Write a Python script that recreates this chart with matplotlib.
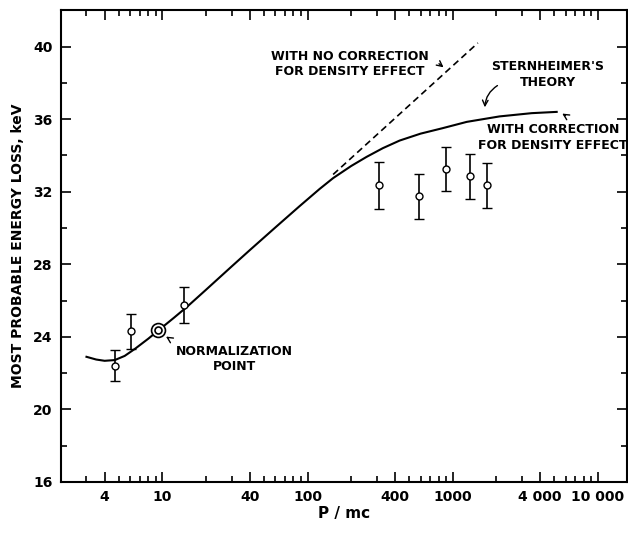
import matplotlib.pyplot as plt
from matplotlib.ticker import FixedLocator, NullFormatter

# Sternheimer theory, with density-effect correction
curve_p = [3.0, 3.5, 4.0, 4.7, 5.5, 6.5, 8.0, 9.4, 12, 15, 20, 30, 40, 60, 88,
           121, 150, 200, 255, 330, 431, 600, 850, 1250, 2100, 3500, 5200]
curve_e = [22.9, 22.75, 22.68, 22.72, 22.95, 23.35, 23.9, 24.36, 25.05, 25.7,
           26.6, 27.88, 28.78, 30.03, 31.2, 32.15, 32.75, 33.42, 33.92, 34.4,
           34.82, 35.2, 35.5, 35.85, 36.15, 36.33, 36.4]

# without density-effect correction
nocorr_p = [150, 1490]
nocorr_e = [32.95, 40.2]

# measurements
meas_p = [4.74, 6.1, 14.2, 309, 586, 903, 1309, 1726]
meas_e = [22.4, 24.3, 25.75, 32.35, 31.75, 33.25, 32.85, 32.35]
meas_err = [0.85, 0.95, 1.0, 1.3, 1.25, 1.2, 1.25, 1.25]

norm_p = 9.4
norm_e = 24.36

xticks = [4, 10, 40, 100, 400, 1000, 4000, 10000]
xticklabels = ['4', '10', '40', '100', '400', '1000', '4 000', '10 000']
yticks = [16, 20, 24, 28, 32, 36, 40]

plt.rcParams['font.family'] = 'DejaVu Sans'
plt.rcParams['font.weight'] = 'bold'

fig = plt.figure(figsize=(6.28, 5.33), dpi=100)
ax = fig.add_axes([0.097, 0.0957, 0.901, 0.885])

ax.set_xscale('log')
ax.set_xlim(2, 15800)
ax.set_ylim(16, 42)

ax.plot(curve_p, curve_e, color='black', lw=1.5)
ax.plot(nocorr_p, nocorr_e, color='black', lw=1.2, ls=(0, (4, 2.5)))

ax.errorbar(meas_p, meas_e, yerr=meas_err, fmt='o', mfc='white', mec='black',
            ms=5, mew=1, ecolor='black', elinewidth=1.2, capsize=3.5, capthick=1.2)
ax.plot([norm_p], [norm_e], 'o', mfc='white', mec='black', ms=10, mew=1.2)
ax.plot([norm_p], [norm_e], 'o', mfc='white', mec='black', ms=5, mew=1.2)

# ticks
ax.xaxis.set_major_locator(FixedLocator(xticks))
minors = []
for d in [1, 10, 100, 1000, 10000]:
    for m in [2, 3, 5, 6, 7, 8, 9]:
        minors.append(m * d)
ax.xaxis.set_minor_locator(FixedLocator(minors))
ax.xaxis.set_minor_formatter(NullFormatter())
ax.set_xticklabels(xticklabels)
ax.set_yticks(yticks)
ax.yaxis.set_minor_locator(FixedLocator(range(18, 42, 4)))
ax.tick_params(which='both', direction='in', top=True, right=True,
               labelsize=10, width=1.2)
ax.tick_params(which='major', length=7, pad=6)
ax.tick_params(which='minor', length=4)
for s in ax.spines.values():
    s.set_linewidth(1.5)

ax.set_xlabel('P / mc', fontsize=11, fontweight='bold', labelpad=1)
ax.set_ylabel('MOST PROBABLE ENERGY LOSS, keV', fontsize=10, fontweight='bold',
              labelpad=6)

tkw = dict(fontsize=9, fontweight='bold', ha='center', va='center', linespacing=1.25)
ax.text(195, 39.04, 'WITH NO CORRECTION\nFOR DENSITY EFFECT', **tkw)
ax.text(4520, 38.46, "STERNHEIMER'S\nTHEORY", **tkw)
ax.text(4900, 35.0, 'WITH CORRECTION\nFOR DENSITY EFFECT', clip_on=False, **tkw)
ax.text(31.4, 22.77, 'NORMALIZATION\nPOINT', **tkw)

akw = dict(arrowstyle='->', color='black', lw=1)
ax.annotate('', xy=(895, 38.76), xytext=(777, 39.15), arrowprops=akw)
ax.annotate('', xy=(1663, 36.5), xytext=(2110, 37.93),
            arrowprops=dict(arrowstyle='->', color='black', lw=1,
                            connectionstyle='arc3,rad=0.3'))
ax.annotate('', xy=(5470, 36.39), xytext=(6210, 36.11), arrowprops=akw)
ax.annotate('', xy=(10.2, 24.1), xytext=(11.4, 23.85), arrowprops=akw)

fig.savefig('out.png', dpi=100)
